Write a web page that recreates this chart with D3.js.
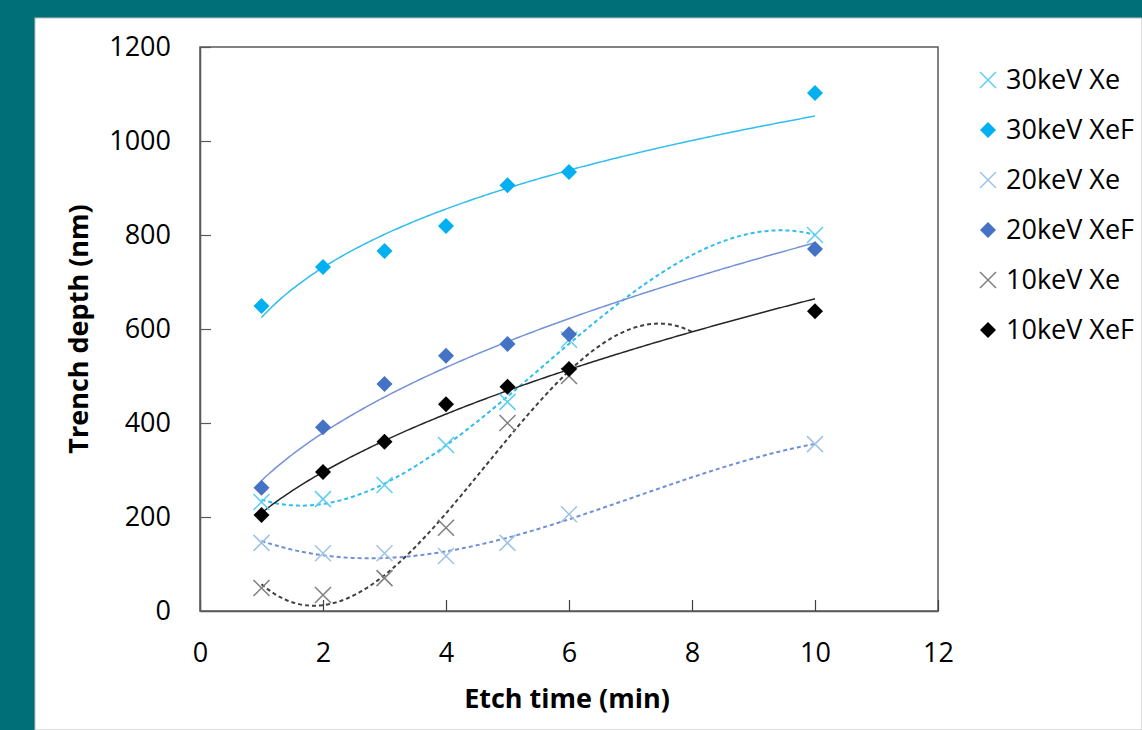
<!DOCTYPE html>
<html>
<head>
<meta charset="utf-8">
<script src="https://cdn.jsdelivr.net/npm/d3@7"></script>
<style>
  body { margin: 0; background: #006f77; overflow: hidden; }
  text { font-family: "Open Sans", "Noto Sans", sans-serif; }
</style>
</head>
<body>
<div id="chart"></div>
<script>
// etch times (min)
const times = [1, 2, 3, 4, 5, 6, 10];
const times10Xe = [1, 2, 3, 4, 5, 6];

// trench depth (nm)
const xe30 = [232, 238, 268, 353, 445, 577, 800];
const xef30 = [649, 732, 766, 819, 906, 934, 1102];
const xe20 = [145, 123, 123, 117, 145, 206, 355];
const xef20 = [262, 391, 483, 543, 568, 589, 770];
const xe10 = [49, 34, 70, 177, 400, 500];
const xef10 = [204, 296, 360, 440, 477, 515, 638];

const xTicks = [0, 2, 4, 6, 8, 10, 12];
const yTicks = [0, 200, 400, 600, 800, 1000, 1200];

const series = [
    {name: '30keV Xe', xs: times, ys: xe30, mark: 'cross', color: '#5ccdf3', fit: 'poly', trend: '#2fbdf0'},
    {name: '30keV XeF', xs: times, ys: xef30, mark: 'diamond', color: '#00b0f0', fit: 'power', trend: '#30bdf0'},
    {name: '20keV Xe', xs: times, ys: xe20, mark: 'cross', color: '#9dc3e6', fit: 'poly', trend: '#6f8fd6'},
    {name: '20keV XeF', xs: times, ys: xef20, mark: 'diamond', color: '#4472c4', fit: 'power', trend: '#7592d8'},
    {name: '10keV Xe', xs: times10Xe, ys: xe10, mark: 'cross', color: '#7f7f7f', fit: 'poly', trend: '#404040', forward: 2},
    {name: '10keV XeF', xs: times, ys: xef10, mark: 'diamond', color: '#000000', fit: 'power', trend: '#262626'}
];

const W = 1142, H = 730;
const margins = {left: 200, right: 204, top: 47, bottom: 119};
const width = W - margins.left - margins.right,
    height = H - margins.top - margins.bottom;

// least squares polynomial
function polyFit(xs, ys, order) {
    const n = order + 1;
    const A = [];
    for (let i = 0; i < n; i++) {
        A.push(new Array(n + 1).fill(0));
        for (let j = 0; j < n; j++) {
            A[i][j] = d3.sum(xs, (x) => Math.pow(x, i + j));
        }
        A[i][n] = d3.sum(xs, (x, k) => ys[k] * Math.pow(x, i));
    }
    for (let c = 0; c < n; c++) {
        let p = c;
        for (let r = c + 1; r < n; r++) if (Math.abs(A[r][c]) > Math.abs(A[p][c])) p = r;
        [A[c], A[p]] = [A[p], A[c]];
        for (let r = 0; r < n; r++) {
            if (r == c) continue;
            const f = A[r][c] / A[c][c];
            for (let k = c; k <= n; k++) A[r][k] -= f * A[c][k];
        }
    }
    const coef = A.map((row, i) => row[n] / row[i]);
    return (x) => coef.reduce((s, c, i) => s + c * Math.pow(x, i), 0);
}

// excel style power trendline, fitted in log space
function powerFit(xs, ys) {
    const lx = xs.map(Math.log), ly = ys.map(Math.log);
    const mx = d3.mean(lx), my = d3.mean(ly);
    const b = d3.sum(lx, (v, i) => (v - mx) * (ly[i] - my)) / d3.sum(lx, (v) => (v - mx) * (v - mx));
    const a = Math.exp(my - b * mx);
    return (x) => a * Math.pow(x, b);
}

let svg = d3.select('#chart').append('svg')
    .attr('width', W)
    .attr('height', H);

svg.append('rect')
    .attr('x', 35).attr('y', 18)
    .attr('width', W - 35).attr('height', H - 18)
    .attr('fill', '#ffffff')
    .attr('stroke', '#bfbfbf')
    .attr('stroke-width', 1);

let x = d3.scaleLinear().domain([0, 12]).range([0, width]),
    y = d3.scaleLinear().domain([0, 1200]).range([height, 0]);

let g = svg.append('g')
    .attr('transform', 'translate(' + margins.left + ',' + margins.top + ')');

g.append('rect')
    .attr('width', width).attr('height', height)
    .attr('fill', 'none')
    .attr('stroke', '#595959')
    .attr('stroke-width', 1.5);

let bottom = g.append('g')
    .attr('transform', 'translate(0,' + height + ')')
    .call(d3.axisBottom(x).tickValues(xTicks).tickFormat(d3.format('d'))
        .tickSizeInner(-11).tickSizeOuter(0).tickPadding(32));
bottom.select('.domain').attr('stroke', '#595959').attr('stroke-width', 1.5);
bottom.selectAll('.tick line').attr('stroke', '#404040').attr('stroke-width', 1.2);
bottom.selectAll('.tick text')
    .attr('font-size', 27)
    .attr('fill', '#000');

let left = g.append('g')
    .call(d3.axisLeft(y).tickValues(yTicks).tickFormat(d3.format('d'))
        .tickSizeInner(-11).tickSizeOuter(0).tickPadding(29));
left.select('.domain').attr('stroke', '#595959').attr('stroke-width', 1.5);
left.selectAll('.tick line').attr('stroke', '#595959').attr('stroke-width', 1.2);
left.selectAll('.tick text')
    .attr('font-size', 27)
    .attr('fill', '#000');
left.selectAll('.tick')
    .filter((d) => d == 0)
    .select('line').remove();

svg.append('text')
    .attr('x', margins.left + x(6) - 2)
    .attr('y', 708)
    .attr('text-anchor', 'middle')
    .attr('font-size', 27)
    .attr('font-weight', 'bold')
    .text('Etch time (min)');

svg.append('text')
    .attr('transform', 'translate(88,' + (margins.top + height / 2) + ') rotate(-90)')
    .attr('text-anchor', 'middle')
    .attr('font-size', 27)
    .attr('font-weight', 'bold')
    .text('Trench depth (nm)');

let line = d3.line()
    .x((d) => x(d[0]))
    .y((d) => y(d[1]));

// trendlines
series.forEach((s) => {
    const f = (s.fit == 'power') ? powerFit(s.xs, s.ys) : polyFit(s.xs, s.ys, 3);
    const x0 = d3.min(s.xs), x1 = d3.max(s.xs) + (s.forward || 0);
    const pts = d3.range(0, 201).map((i) => {
        const t = x0 + (x1 - x0) * i / 200;
        return [t, f(t)];
    });
    g.append('path').datum(pts)
        .attr('fill', 'none')
        .attr('stroke', s.trend)
        .attr('stroke-width', s.fit == 'power' ? 1.5 : 2)
        .attr('stroke-dasharray', s.fit == 'power' ? null : '4,3')
        .attr('d', line);
});

function drawMark(sel, mark, color) {
    if (mark == 'diamond') {
        sel.append('path')
            .attr('d', 'M0,-8L8,0L0,8L-8,0Z')
            .attr('fill', color);
    } else {
        sel.append('path')
            .attr('d', 'M-8,-8L8,8M-8,8L8,-8')
            .attr('fill', 'none')
            .attr('stroke', color)
            .attr('stroke-width', 1.5);
    }
}

series.forEach((s) => {
    g.selectAll(null)
        .data(s.xs.map((t, i) => [t, s.ys[i]]))
        .enter().append('g')
        .attr('transform', (d) => 'translate(' + x(d[0]) + ',' + y(d[1]) + ')')
        .each(function() { drawMark(d3.select(this), s.mark, s.color); });
});

// legend
let legend = svg.append('g')
    .attr('transform', 'translate(988,80)');
series.forEach((s, i) => {
    let row = legend.append('g')
        .attr('transform', 'translate(0,' + (i * 50) + ')');
    row.append('g')
        .call((sel) => drawMark(sel, s.mark, s.color));
    row.append('text')
        .attr('x', 18)
        .attr('dy', '0.35em')
        .attr('font-size', 27)
        .text(s.name);
});
</script>
</body>
</html>
